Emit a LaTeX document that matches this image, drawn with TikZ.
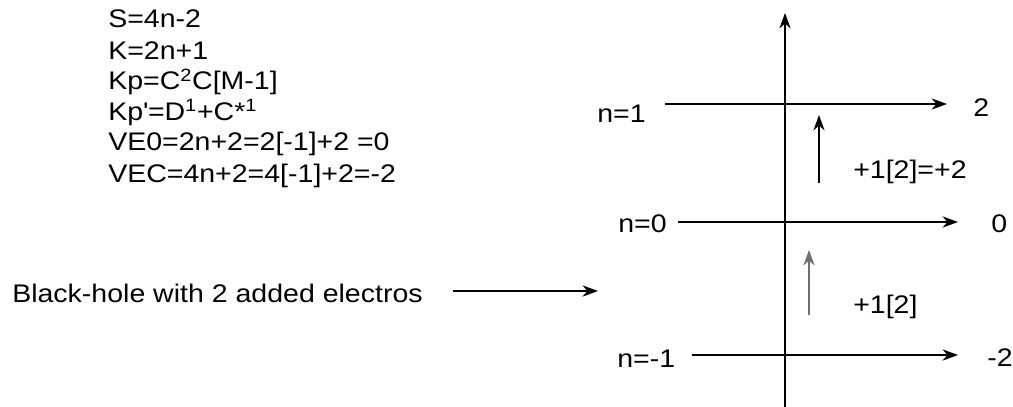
\documentclass[tikz,border=0pt]{standalone}
\usepackage{fontspec}
\setmainfont{Liberation Sans}[FakeStretch=1.12]
\usepackage{tikz}
\usetikzlibrary{arrows.meta, positioning}
\definecolor{stepgray}{HTML}{707070}

\begin{document}
\begin{tikzpicture}[x=0.025cm, y=-0.025cm,
  txt/.style={inner sep=0pt, anchor=base west, font=\fontsize{18.1}{22}\selectfont},
  level/.style={line width=1pt, -{Stealth[length=11pt, width=8pt, inset=3.5pt]}}]
  \useasboundingbox (0,0) rectangle (1013,407);

  % Formulas
  \foreach \y/\nm/\lab in {
    28/fS/{S=4n-2},
    60/fK/{K=2n+1},
    90/fKp/{Kp=C\textsuperscript{2}C[M-1]},
    120/fKpp/{Kp\textquotesingle=D\textsuperscript{1}+C*\textsuperscript{1}},
    150/fVE/{VE0=2n+2=2[-1]+2 =0},
    182/fVC/{VEC=4n+2=4[-1]+2=-2}
  } {
    \node[txt] (\nm) at (108,\y) {\lab};
  }

  % Black hole label and pointer
  \node[txt] (bh) at (12,302) {Black-hole with 2 added electros};
  \coordinate (bhs) at (453,291);
  \coordinate (bhe) at (598,291);
  \draw[level] (bhs) -- (bhe);

  % Vertical axis
  \coordinate (axbot) at (785,407);
  \coordinate (axtop) at (785,13);
  \draw[level] (axbot) -- (axtop);

  % Levels
  \node[txt] (n1) at (597,123) {n=1};
  \node[txt] (n0) at (618,232) {n=0};
  \node[txt] (nm1) at (617,367) {n=-1};
  \node[txt] (v1) at (973,116) {2};
  \node[txt] (v0) at (991,232) {0};
  \node[txt] (vm1) at (987,366) {-2};

  \coordinate (l1s) at (665,104);
  \coordinate (l1e) at (947,104);
  \coordinate (l0s) at (678,222);
  \coordinate (l0e) at (958,222);
  \coordinate (lm1s) at (692,355);
  \coordinate (lm1e) at (958,355);
  \draw[level] (l1s) -- (l1e);
  \draw[level] (l0s) -- (l0e);
  \draw[level] (lm1s) -- (lm1e);

  % Steps up
  \coordinate (up1s) at (819,183);
  \coordinate (up1e) at (819,115);
  \coordinate (up0s) at (809,315);
  \coordinate (up0e) at (809,250);
  \draw[level] (up1s) -- (up1e);
  \draw[level, stepgray] (up0s) -- (up0e);
  \node[txt] (s1) at (853,178) {+1[2]=+2};
  \node[txt] (s0) at (853,313) {+1[2]};
\end{tikzpicture}
\end{document}
